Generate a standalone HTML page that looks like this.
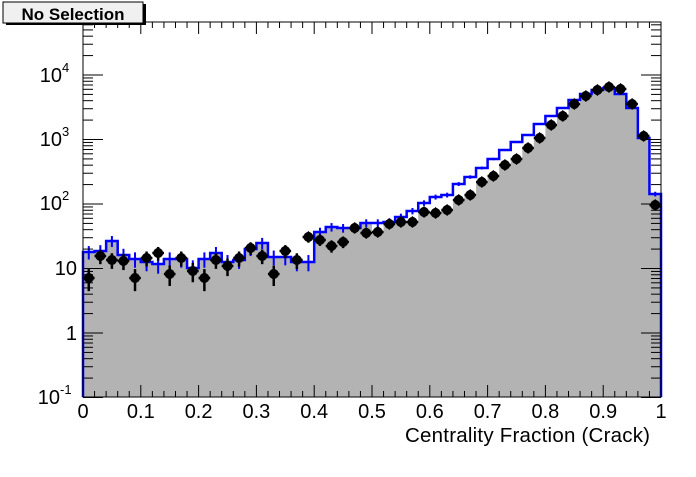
<!DOCTYPE html>
<html><head><meta charset="utf-8"><style>
body{margin:0;background:#fff;}
svg text{font-family:"Liberation Sans",Arial,sans-serif;}
</style></head><body>
<svg id="s" width="696" height="472" xmlns="http://www.w3.org/2000/svg"></svg>
<script>
const X0=83,X1=661,Y0=22,YB=397,dec=64.5,Y1=333;
const bw=(X1-X0)/50;
const blue=[252,251,241,255,259,262,264,259,259,268,259,253,262,260,249,243,257,257,262,262,232,227,228,228,223,223,222,217,211,203,197,195,184,177,168,159,150,142,135,124,116,108,100,94,90,88,94,108,138,194];
const dat=[278,256,260,261,278,258,253,274,258,271,278,260,266,258,248,256,274,251,260,237,240,246,242,228,233,232,224,222,222,212,213,210,200,195,182,176,165,159,148,138,125,116,104,96,90,87,89,104,136,205];
let h='';
h+=`<rect x="${X0}" y="${Y0}" width="${X1-X0}" height="${YB-Y0}" fill="#fff"/>`;
let g=`M${X0},${YB}`;
for(let i=0;i<50;i++){let y=(i>=25&&i<=47)?Math.max(dat[i],blue[i]):blue[i];g+=`L${X0+i*bw},${y}L${X0+(i+1)*bw},${y}`;}
g+=`L${X1},${YB}Z`;
h+=`<path d="${g}" fill="#b3b3b3"/>`;
let b=`M${X0},${YB}`;
for(let i=0;i<50;i++){b+=`L${X0+i*bw},${blue[i]}L${X0+(i+1)*bw},${blue[i]}`;}
b+=`L${X1},${YB}`;
h+=`<path d="${b}" fill="none" stroke="#0000ff" stroke-width="2.5"/>`;
function yv(v){return Y1-dec*Math.log10(v);}
for(let i=0;i<50;i++){let N=Math.pow(10,(Y1-blue[i])/dec),e=Math.sqrt(N),cx=X0+(i+.5)*bw;
h+=`<line x1="${cx}" x2="${cx}" y1="${yv(N+e)}" y2="${N-e>0.1?yv(N-e):YB}" stroke="#0000ff" stroke-width="2"/>`;}
for(let i=0;i<50;i++){let N=Math.pow(10,(Y1-dat[i])/dec),e=Math.sqrt(N),cx=X0+(i+.5)*bw,y=dat[i];
h+=`<line x1="${cx}" x2="${cx}" y1="${yv(N+e)}" y2="${N-e>0.1?yv(N-e):YB}" stroke="#000" stroke-width="2.5"/>`;
h+=`<line x1="${cx-bw/2}" x2="${cx+bw/2}" y1="${y}" y2="${y}" stroke="#000" stroke-width="2.5"/>`;
h+=`<path d="M${cx-6},${y}L${cx},${y-6}L${cx+6},${y}L${cx},${y+6}Z" fill="#000"/>`;
h+=`<circle cx="${cx}" cy="${y}" r="5" fill="#000"/>`;}
h+=`<rect x="${X0}" y="${Y0}" width="${X1-X0}" height="${YB-Y0}" fill="none" stroke="#000" stroke-width="1"/>`;
for(let d=-1;d<=4;d++){for(let m=1;m<10;m++){let y=Y1-dec*(d+Math.log10(m));if(y<Y0)continue;let L=m==1?20:10;
h+=`<line x1="${X0}" x2="${X0+L}" y1="${y}" y2="${y}" stroke="#000"/><line x1="${X1}" x2="${X1-L}" y1="${y}" y2="${y}" stroke="#000"/>`;}}
for(let i=0;i<=50;i++){let x=X0+i*(X1-X0)/50;let L=i%5==0?12:6;
h+=`<line x1="${x}" x2="${x}" y1="${YB}" y2="${YB-L}" stroke="#000"/><line x1="${x}" x2="${x}" y1="${Y0}" y2="${Y0+L}" stroke="#000"/>`;}
const yl=[["10","4",75],["10","3",139],["10","2",203],["10","",268],["1","",333],["10","-1",397]];
for(const [a,e,y] of yl){if(e){h+=`<text x="${e=='-1'?60:62}" y="${y+7}" font-size="20" text-anchor="end">${a}</text><text x="${e=='-1'?60:62}" y="${y-3}" font-size="13">${e}</text>`;}
else h+=`<text x="77" y="${y+7}" font-size="20" text-anchor="end">${a}</text>`;}
const xl=["0","0.1","0.2","0.3","0.4","0.5","0.6","0.7","0.8","0.9","1"];
xl.forEach((t,i)=>{h+=`<text x="${X0+i*(X1-X0)/10}" y="418" font-size="20" text-anchor="middle">${t}</text>`;});
h+=`<text x="650" y="442" font-size="20.5" text-anchor="end" textLength="245">Centrality Fraction (Crack)</text>`;
h+=`<rect x="6" y="4" width="140" height="21" fill="#000"/><rect x="3" y="2" width="140" height="21" fill="#f0f0f0" stroke="#000"/>`;
h+=`<text x="73" y="20" font-size="17" font-weight="bold" text-anchor="middle">No Selection</text>`;
document.getElementById('s').innerHTML=h;
</script>
</body></html>
